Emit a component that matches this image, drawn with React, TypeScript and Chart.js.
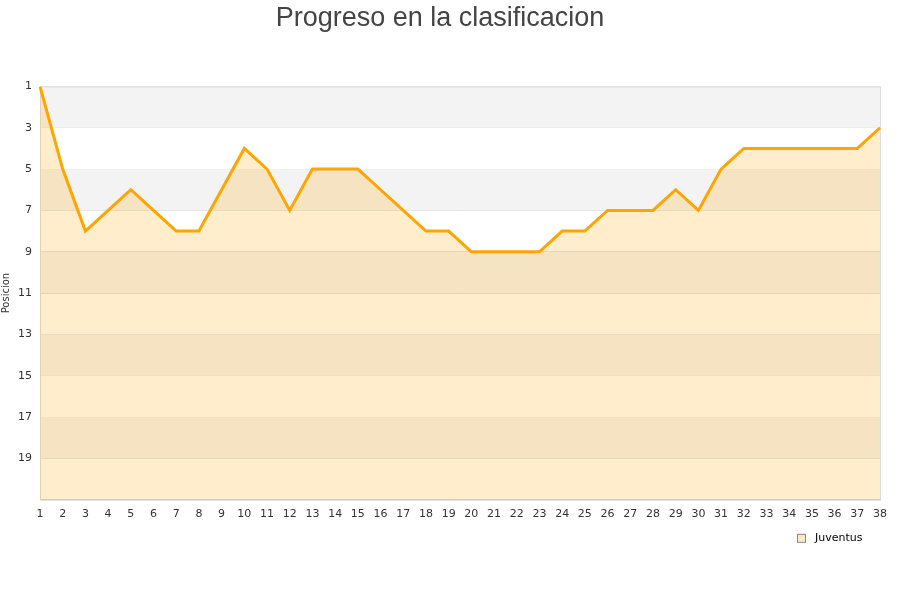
import React, { useEffect, useRef } from "react";
import { Chart, registerables } from "chart.js";

Chart.register(...registerables);

const rounds: string[] = Array.from({ length: 38 }, (_, i) => String(i + 1));
const positions: number[] = [1, 5, 8, 7, 6, 7, 8, 8, 6, 4, 5, 7, 5, 5, 5, 6, 7, 8, 8, 9, 9, 9, 9, 8, 8, 7, 7, 7, 6, 7, 5, 4, 4, 4, 4, 4, 4, 3];
const seriesName = "Juventus";
const chartTitle = "Progreso en la clasificacion";
const yTitle = "Posicion";
const yTicks: number[] = [1, 3, 5, 7, 9, 11, 13, 15, 17, 19];

const bandsPlugin = {
  id: "bands",
  beforeDatasetsDraw(chart: any) {
    const { ctx, chartArea, scales } = chart;
    const y = scales.y;
    ctx.save();
    ctx.fillStyle = "#f3f3f3";
    for (let v = 1; v < 21; v += 4) {
      const y1 = y.getPixelForValue(v);
      const y2 = y.getPixelForValue(v + 2);
      ctx.fillRect(chartArea.left, Math.min(y1, y2), chartArea.right - chartArea.left, Math.abs(y2 - y1));
    }
    ctx.strokeStyle = "#dddddd";
    ctx.lineWidth = 1;
    ctx.strokeRect(chartArea.left + 0.5, chartArea.top + 0.5, chartArea.right - chartArea.left, chartArea.bottom - chartArea.top);
    ctx.restore();
  },
};

const legendPlugin = {
  id: "customLegend",
  afterDraw(chart: any) {
    const { ctx, chartArea } = chart;
    const textX = chartArea.right - 65;
    const cy = chartArea.bottom + 38;
    ctx.save();
    ctx.fillStyle = "#fde9c4";
    ctx.fillRect(textX - 17.5, cy - 4, 8, 8);
    ctx.strokeStyle = "#888888";
    ctx.lineWidth = 1;
    ctx.strokeRect(textX - 17.5, cy - 3.5, 8, 8);
    ctx.fillStyle = "#000000";
    ctx.font = "11px 'DejaVu Sans', sans-serif";
    ctx.textAlign = "left";
    ctx.textBaseline = "middle";
    ctx.fillText(seriesName, textX, cy);
    ctx.restore();
  },
};

export default function App() {
  const ref = useRef<HTMLCanvasElement | null>(null);
  useEffect(() => {
    if (!ref.current) return;
    const chart = new Chart(ref.current, {
      type: "line",
      data: {
        labels: rounds,
        datasets: [
          {
            label: seriesName,
            data: positions,
            borderColor: "#FFA500",
            backgroundColor: "rgba(255,165,0,0.2)",
            borderWidth: 3,
            pointRadius: 0,
            fill: { value: 21 },
            tension: 0,
          },
        ],
      },
      options: {
        animation: false,
        responsive: true,
        maintainAspectRatio: false,
        layout: { padding: { left: 0, right: 20, top: 0, bottom: 79 } },
        plugins: {
          title: {
            display: true,
            text: chartTitle,
            color: "#444444",
            font: { family: "'Liberation Sans', Arial, sans-serif", size: 27, weight: "normal" },
            padding: { top: 2, bottom: 52 },
          },
          legend: { display: false },
          tooltip: { enabled: false },
        },
        scales: {
          x: {
            type: "category",
            offset: false,
            grid: { display: false },
            border: { color: "#cccccc" },
            ticks: {
              color: "#333333",
              font: { family: "'DejaVu Sans', sans-serif", size: 11 },
              maxRotation: 0,
              autoSkip: false,
              padding: 0,
            },
          },
          y: {
            type: "linear",
            reverse: true,
            min: 1,
            max: 21,
            afterFit(scale: any) {
              scale.width = 40;
            },
            afterBuildTicks(scale: any) {
              scale.ticks = yTicks.concat([21]).map((v) => ({ value: v }));
            },
            title: {
              display: true,
              text: yTitle,
              color: "#333333",
              font: { family: "'DejaVu Sans', sans-serif", size: 10 },
              padding: 0,
            },
            grid: { color: "#dddddd", drawTicks: false },
            border: { color: "#cccccc" },
            ticks: {
              color: "#333333",
              font: { family: "'DejaVu Sans', sans-serif", size: 11 },
              padding: 8,
              callback: (v: any) => (yTicks.includes(Number(v)) ? String(v) : ""),
            },
          },
        },
      },
      plugins: [bandsPlugin, legendPlugin],
    });
    return () => chart.destroy();
  }, []);
  return (
    <div style={{ position: "fixed", left: 0, top: 0, width: 900, height: 600, background: "#fff" }}>
      <canvas ref={ref} />
    </div>
  );
}
